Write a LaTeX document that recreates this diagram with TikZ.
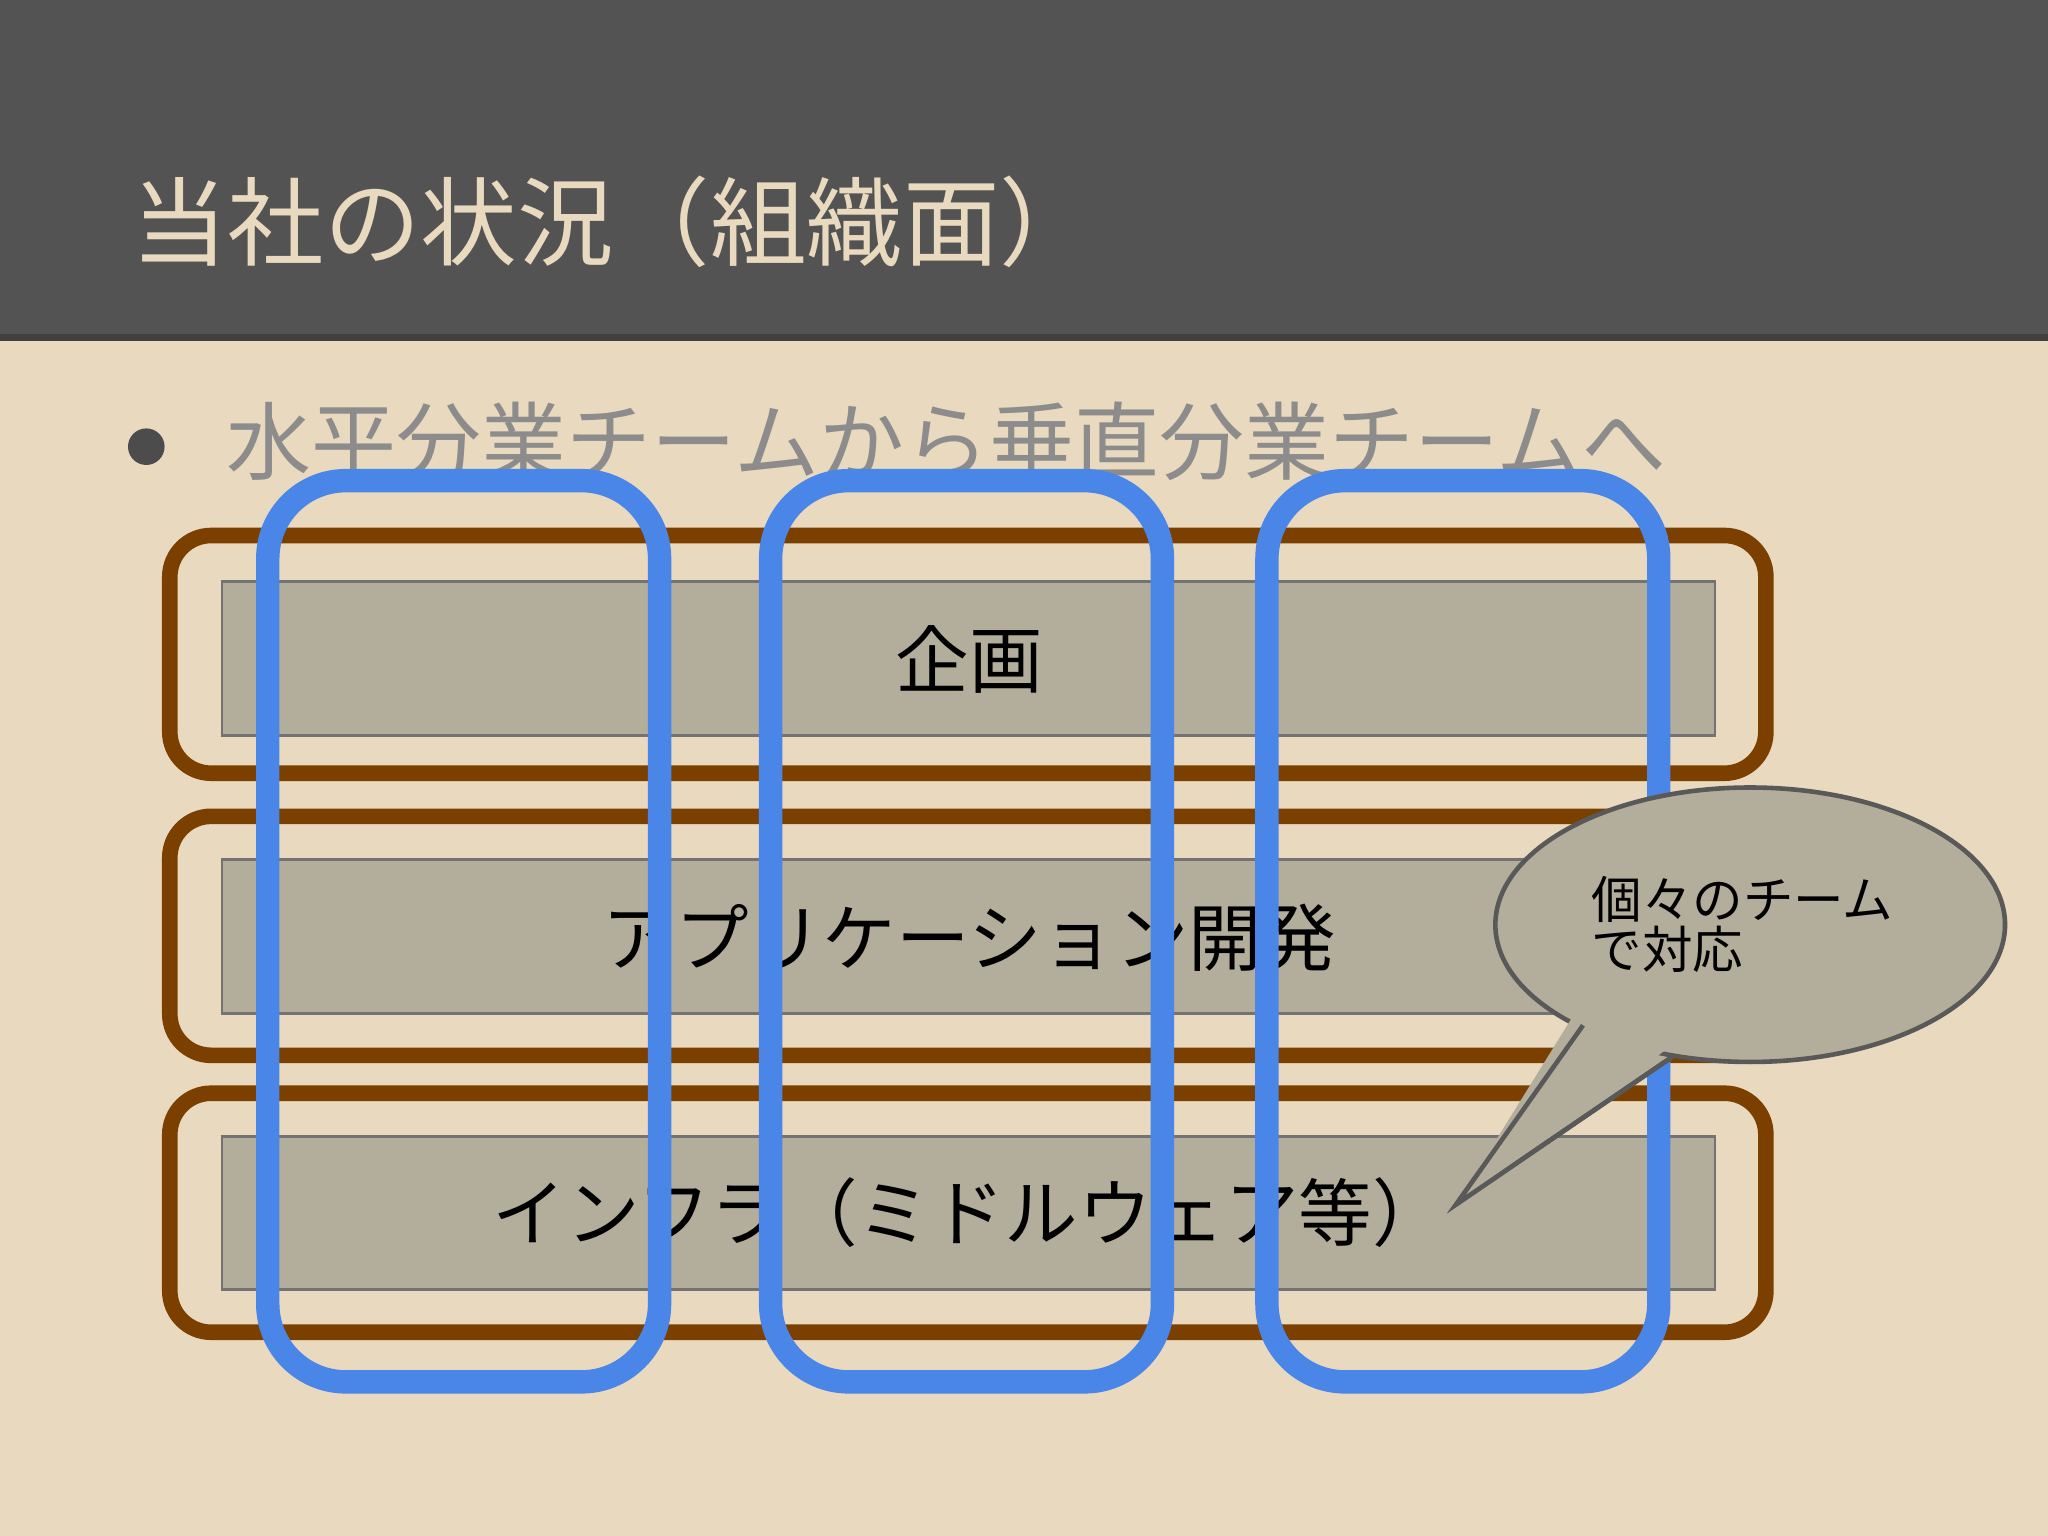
\documentclass[tikz,border=0pt]{standalone}
\usepackage{fontspec}
\newfontfamily\cjk{Noto Sans CJK JP}
\usetikzlibrary{shapes.geometric}
\definecolor{bg}{HTML}{E8D9BF}
\definecolor{hdr}{HTML}{535353}
\definecolor{brn}{HTML}{7B3F00}
\definecolor{gbox}{HTML}{B3AE9B}
\definecolor{blu}{HTML}{4A86E8}
\tikzset{
 layer/.style={draw=brn,line width=3.4pt,rounded corners=9pt},
 inner/.style={draw=black!55,fill=gbox,line width=0.6pt},
 team/.style={draw=blu,line width=5.1pt,rounded corners=17pt},
 lbl/.style={font=\cjk\fontsize{16}{20}\selectfont,text=black},
}
\begin{document}
\begin{tikzpicture}[x=0.01cm,y=-0.01cm]
\useasboundingbox (0,0) rectangle (1568,1176);
\fill[bg] (0,0) rectangle (1568,256);
\fill[bg] (0,0) rectangle (1568,1176);
\fill[hdr] (0,0) rectangle (1568,256);
\fill[black!75] (0,256) rectangle (1568,261);
\node[anchor=west,text=bg,font=\cjk\fontsize{21}{26}\selectfont,inner sep=0pt] (title) at (100,170) {当社の状況（組織面）};
\fill[black!70] (112,342) circle (14) coordinate (bul);
\node[anchor=west,text=black!45,font=\cjk\fontsize{18.5}{22}\selectfont,inner sep=0pt] (sub) at (173,338) {水平分業チームから垂直分業チームへ};
\foreach \a/\b/\c/\d/\n in {410/592/445/563/p,625/808/658/776/a,837/1020/870/987/i}{
 \draw[layer] (130,\a) rectangle (1352,\b);
 \draw[inner] (170,\c) rectangle (1313,\d);
}
\node[lbl] (plan) at (742,505) {企画};
\node[lbl] (app) at (742,718) {アプリケーション開発};
\node[lbl] (inf) at (742,928) {インフラ（ミドルウェア等）};
\draw[team] (205,368) rectangle (505,1058);
\draw[team] (590,368) rectangle (890,1058);
\draw[team] (970,368) rectangle (1270,1058);
% callout
\coordinate (t1) at (1212,785); \coordinate (tip) at (1115,922); \coordinate (t2) at (1282,808);
\filldraw[fill=gbox,draw=black!65,line width=1pt] (t1)--(tip)--(t2)--cycle;
\node[ellipse,draw=black!65,fill=gbox,line width=1pt,minimum width=3.9cm,minimum height=2.1cm,inner sep=0pt] (call) at (1340,708) {};
\fill[gbox] (1208,772)--(tip)--(1290,793)--cycle;
\draw[black!65,line width=1pt] (t1)--(tip)--(t2);
\node[anchor=north west,align=left,inner sep=0pt,font=\cjk\fontsize{11}{11}\selectfont] (ctext) at (1218,670) {個々のチーム\\で対応};
\end{tikzpicture}
\end{document}
